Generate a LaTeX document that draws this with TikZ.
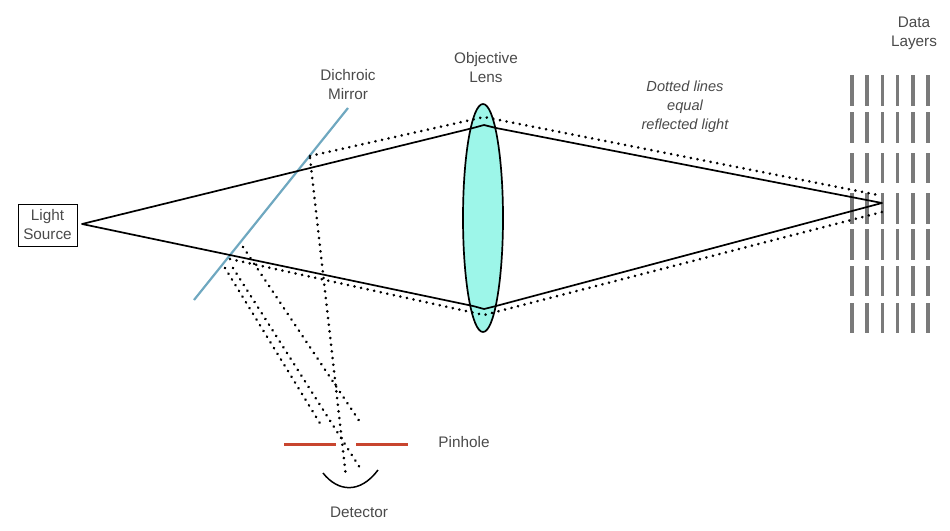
\documentclass[tikz,border=0pt]{standalone}
\usepackage{fontspec}
\usetikzlibrary{shapes.geometric}
\setmainfont{Liberation Sans}
\definecolor{labelgray}{HTML}{4A4A4A}
\definecolor{mirrorblue}{HTML}{6FA8C0}
\definecolor{lensfill}{HTML}{9DF6E9}
\definecolor{pinred}{HTML}{C8452F}
\definecolor{layergray}{HTML}{7A7A7A}
\tikzset{
  lbl/.style={text=labelgray,font=\fontsize{15.3}{19}\selectfont,align=center,inner sep=0pt},
  solidray/.style={line width=1.7pt,black},
  dotray/.style={line width=2.9pt,black,line cap=round,dash pattern=on 0.01pt off 6.7pt},
  datalayer/.style={line width=3.6pt,layergray},
}
\begin{document}
\begin{tikzpicture}[x=1pt,y=-1pt]
\useasboundingbox (0,0) rectangle (950,530);
% data layers
\foreach \cx in {852,867,882.5,897.5,913,928}
  \foreach \top/\bot in {75/106,112/143,153/183,193/224,229/260,266/296,303/333}
    \draw[datalayer] (\cx,\top) -- (\cx,\bot);
% lens
\node[draw=black,line width=1.7pt,fill=lensfill,ellipse,minimum width=40pt,minimum height=228pt,inner sep=0pt] (lens) at (483,218) {};
% source
\node[draw=black,line width=1pt,lbl,minimum width=59pt,minimum height=42pt] (source) at (47.5,225) {Light\\Source};
% ray points
\coordinate (apex) at (82,224);
\coordinate (focus) at (882,203);
\coordinate (ua) at (473,128); \coordinate (ub) at (484,125); \coordinate (uc) at (496,128);
\coordinate (la) at (473,306); \coordinate (lb) at (484,309); \coordinate (lc) at (496,306);
\coordinate (mirrorTop) at (348,108); \coordinate (mirrorBot) at (194,300);
\coordinate (dotU0) at (310,156); \coordinate (dotU1) at (484,117); \coordinate (dotU2) at (878,195);
\coordinate (dotL0) at (230,259); \coordinate (dotL1) at (484,315); \coordinate (dotL2) at (882,212);
\coordinate (d1s) at (310,158); \coordinate (d1e) at (346,477);
\coordinate (d2s) at (233,268); \coordinate (d2e) at (362,471);
\coordinate (d3s) at (225,268); \coordinate (d3e) at (321,425);
\coordinate (d4s) at (243,247); \coordinate (d4e) at (362,425);
\coordinate (ph1a) at (284,444); \coordinate (ph1b) at (336,444);
\coordinate (ph2a) at (356,444); \coordinate (ph2b) at (408,444);
\coordinate (detL) at (323,473); \coordinate (detR) at (378,470);
% mirror
\draw[mirrorblue,line width=2.2pt] (mirrorTop) -- (mirrorBot);
% solid rays
\draw[solidray,line join=round] (apex) -- (ua) -- (ub) -- (uc) -- (focus) -- (lc) -- (lb) -- (la) -- cycle;
% dotted rays
\draw[dotray] (dotU0) -- (dotU1) -- (dotU2);
\draw[dotray] (dotL0) -- (dotL1) -- (dotL2);
\draw[dotray] (d1s) -- (d1e);
\draw[dotray] (d2s) -- (d2e);
\draw[dotray] (d3s) -- (d3e);
\draw[dotray] (d4s) -- (d4e);
% pinhole
\draw[pinred,line width=3pt] (ph1a) -- (ph1b);
\draw[pinred,line width=3pt] (ph2a) -- (ph2b);
% detector
\draw[black,line width=1.5pt] (detL) .. controls (338,492) and (360,494) .. (detR);
% labels
\node[lbl] (dichroic) at (348,85) {Dichroic\\Mirror};
\node[lbl] (objective) at (486,67.5) {Objective\\Lens};
\node[lbl,font=\fontsize{14.6}{19}\selectfont\itshape] (note) at (685,107) {Dotted lines\\equal\\reflected light};
\node[lbl] (layers) at (914,33) {Data\\Layers};
\node[lbl] (pinhole) at (464,442) {Pinhole};
\node[lbl] (detector) at (359,512) {Detector};
\end{tikzpicture}
\end{document}
